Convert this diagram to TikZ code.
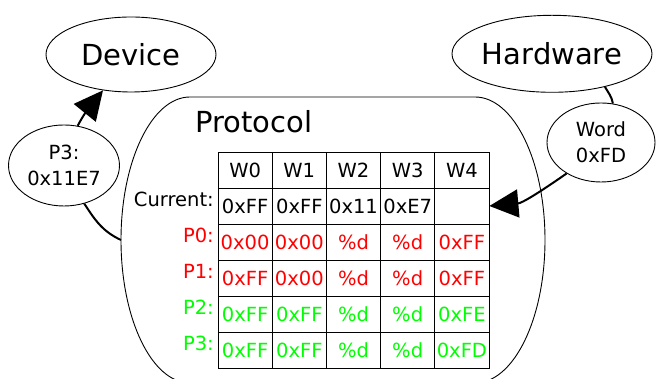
\documentclass[tikz,border=0pt]{standalone}
\usepackage{fontspec}
\setmainfont{DejaVu Sans}
\usetikzlibrary{shapes.geometric,arrows.meta}
\definecolor{pred}{RGB}{255,0,0}
\definecolor{pgreen}{RGB}{0,255,0}
\begin{document}
\begin{tikzpicture}[x=1pt,y=1pt,
  big/.style={font=\fontsize{29}{34}\selectfont},
  small/.style={font=\fontsize{19.5}{26}\selectfont},
  oval/.style={draw, ellipse, line width=0.9pt, inner sep=0pt},
  cell/.style={draw, line width=0.8pt, minimum width=54.2pt, minimum height=36pt, inner sep=0pt, small},
  rowlab/.style={anchor=base east, inner sep=0pt, small},
  conn/.style={line width=2pt},
  arr/.style={conn, -{Triangle[length=29pt,width=28pt]}}]
\useasboundingbox (0,0) rectangle (657,379);
\clip (0,0) rectangle (657,379);
\fill[white] (0,0) rectangle (657,379);

% Protocol outline
\draw[line width=0.9pt] (475,282) -- (190,282)
  arc[start angle=90, end angle=270, x radius=69, y radius=143]
  -- (475,-4)
  arc[start angle=-90, end angle=90, x radius=70, y radius=143] -- cycle;
\node[big, anchor=base] (plabel) at (254,246) {Protocol};

% ellipses
\node[oval, big, minimum width=170pt, minimum height=75pt] (dev) at (131,324.5) {\makebox[0pt]{Device}};
\node[oval, big, minimum width=200pt, minimum height=77pt] (hw) at (552,325.2) {\makebox[0pt]{Hardware}};
\node[oval, small, align=center, minimum width=111pt, minimum height=81pt] (p3) at (64,213.5) {P3:\\0x11E7};
\node[oval, small, align=center, minimum width=108pt, minimum height=79pt] (word) at (601,236.5) {Word\\0xFD};

% table
\foreach \t [count=\i from 0] in {W0,W1,W2,W3,W4}
  \node[cell] (h\i) at ({245.1+54.2*\i},209) {\t};
\foreach \t [count=\i from 0] in {0xFF,0xFF,0x11,0xE7}
  \node[cell] (cur\i) at ({245.1+54.2*\i},173) {\t};
\node[cell] (cur4) at (461.9,173) {};
\foreach \t [count=\i from 0] in {0x00,0x00,\%d,\%d,0xFF}
  \node[cell, text=pred] (pa\i) at ({245.1+54.2*\i},137) {\t};
\foreach \t [count=\i from 0] in {0xFF,0x00,\%d,\%d,0xFF}
  \node[cell, text=pred] (pb\i) at ({245.1+54.2*\i},101) {\t};
\foreach \t [count=\i from 0] in {0xFF,0xFF,\%d,\%d,0xFE}
  \node[cell, text=pgreen] (pc\i) at ({245.1+54.2*\i},65) {\t};
\foreach \t [count=\i from 0] in {0xFF,0xFF,\%d,\%d,0xFD}
  \node[cell, text=pgreen] (pd\i) at ({245.1+54.2*\i},29) {\t};

% row labels
\node[rowlab] (lcur) at (214,172) {Current:};
\node[rowlab, text=pred] (lp0) at (214,136) {P0:};
\node[rowlab, text=pred] (lp1) at (214,100) {P1:};
\node[rowlab, text=pgreen] (lp2) at (214,64) {P2:};
\node[rowlab, text=pgreen] (lp3) at (214,28.5) {P3:};

% connectors
\coordinate (protL) at (121,139);
\draw[arr] (p3.71) to[out=62, in=231] (dev.-128);
\draw[arr] (word.-138) to[out=215, in=5] (cur4.east);
\draw[conn] (hw.-32) to[out=-60, in=100] (word.73);
\draw[conn] (p3.-62) to[out=-57, in=155] (protL);
\end{tikzpicture}
\end{document}
